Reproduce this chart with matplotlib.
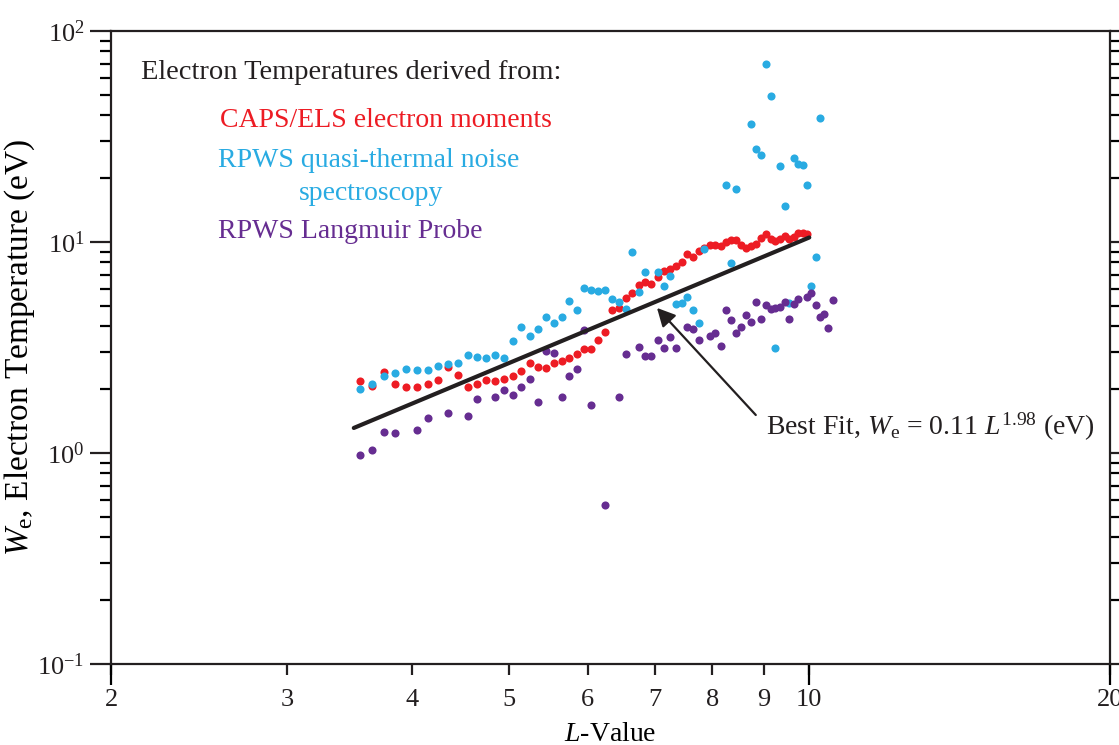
import matplotlib
matplotlib.use("Agg")
import matplotlib.pyplot as plt
from matplotlib import ticker

plt.rcParams['font.family'] = ['Liberation Serif', 'DejaVu Serif']
plt.rcParams['mathtext.fontset'] = 'custom'
plt.rcParams['mathtext.rm'] = 'Liberation Serif'
plt.rcParams['mathtext.it'] = 'Liberation Serif:italic'
plt.rcParams['mathtext.bf'] = 'Liberation Serif:bold'
plt.rcParams['axes.unicode_minus'] = False

# CAPS/ELS electron moments
els_L = [3.55, 3.65, 3.75, 3.85, 3.95, 4.05, 4.15, 4.25, 4.35, 4.45, 4.55, 4.65, 4.75,
         4.85, 4.95, 5.05, 5.15, 5.25, 5.35, 5.45, 5.55, 5.65, 5.75, 5.85, 5.95, 6.05,
         6.15, 6.25, 6.35, 6.45, 6.55, 6.65, 6.75, 6.85, 6.95, 7.05, 7.15, 7.25, 7.35,
         7.45, 7.55, 7.65, 7.75, 7.85, 7.95, 8.05, 8.15, 8.25, 8.35, 8.45, 8.55, 8.65,
         8.75, 8.85, 8.95, 9.05, 9.15, 9.25, 9.35, 9.45, 9.55, 9.65, 9.75, 9.85, 9.95]
els_W = [2.20, 2.08, 2.43, 2.12, 2.06, 2.05, 2.12, 2.21, 2.55, 2.34, 2.06, 2.12, 2.21,
         2.19, 2.24, 2.32, 2.44, 2.66, 2.56, 2.53, 2.66, 2.73, 2.83, 2.94, 3.10, 3.12,
         3.42, 3.73, 4.76, 4.88, 5.45, 5.71, 6.23, 6.44, 6.35, 6.80, 7.26, 7.45, 7.72,
         8.04, 8.77, 8.45, 9.05, 9.37, 9.65, 9.65, 9.60, 9.97, 10.2, 10.2, 9.68, 9.34,
         9.54, 9.82, 10.5, 10.9, 10.3, 10.1, 10.3, 10.7, 10.3, 10.6, 11.0, 11.0, 10.9]

# RPWS quasi-thermal noise spectroscopy
qtn_L = [3.55, 3.65, 3.75, 3.85, 3.95, 4.05, 4.15, 4.25, 4.35, 4.45, 4.55, 4.65, 4.75,
         4.85, 4.95, 5.05, 5.15, 5.25, 5.35, 5.45, 5.55, 5.65, 5.75, 5.85, 5.95, 6.05,
         6.15, 6.25, 6.35, 6.45, 6.55, 6.65, 6.75, 6.85, 7.05, 7.15, 7.25, 7.35, 7.45,
         7.55, 7.65, 7.75, 7.85, 8.25, 8.35, 8.45, 8.75, 8.85, 8.95, 9.05, 9.15, 9.25,
         9.35, 9.45, 9.55, 9.65, 9.75, 9.85, 9.95, 10.05, 10.15, 10.25]
qtn_W = [2.00, 2.13, 2.31, 2.39, 2.49, 2.48, 2.47, 2.58, 2.63, 2.67, 2.90, 2.85, 2.83,
         2.91, 2.82, 3.38, 3.97, 3.59, 3.89, 4.41, 4.15, 4.40, 5.24, 4.76, 6.05, 5.94,
         5.84, 5.92, 5.37, 5.21, 4.81, 8.94, 5.80, 7.18, 7.18, 6.19, 6.92, 5.07, 5.12,
         5.49, 4.77, 4.15, 9.24, 18.7, 7.93, 17.9, 36.3, 27.7, 25.8, 70.0, 49.0, 3.14,
         22.9, 14.8, 5.12, 24.9, 23.3, 23.2, 18.7, 6.17, 8.45, 38.6]

# RPWS Langmuir Probe
lp_L = [3.55, 3.65, 3.75, 3.85, 4.05, 4.15, 4.35, 4.55, 4.65, 4.85, 4.95, 5.05, 5.15,
        5.25, 5.35, 5.45, 5.55, 5.65, 5.75, 5.85, 5.95, 6.05, 6.25, 6.45, 6.55, 6.75,
        6.85, 6.95, 7.05, 7.15, 7.25, 7.35, 7.55, 7.65, 7.75, 7.95, 8.05, 8.15, 8.25,
        8.35, 8.45, 8.55, 8.65, 8.75, 8.85, 8.95, 9.05, 9.15, 9.25, 9.35, 9.45, 9.55,
        9.65, 9.75, 9.95, 10.05, 10.15, 10.25, 10.35, 10.45, 10.55]
lp_W = [0.98, 1.03, 1.26, 1.25, 1.29, 1.47, 1.54, 1.50, 1.81, 1.85, 1.99, 1.88, 2.05,
        2.25, 1.75, 3.04, 2.99, 1.84, 2.32, 2.50, 3.83, 1.68, 0.57, 1.84, 2.96, 3.17,
        2.88, 2.88, 3.43, 3.14, 3.56, 3.16, 3.97, 3.88, 3.44, 3.57, 3.69, 3.22, 4.76,
        4.26, 3.69, 3.97, 4.52, 4.18, 5.20, 4.33, 5.05, 4.83, 4.87, 4.92, 5.20, 4.33,
        5.07, 5.37, 5.47, 5.75, 5.05, 4.43, 4.54, 3.91, 5.29]

# best fit W_e = a * L^b, drawn over L = 3.5 .. 10
fit_a = 0.11
fit_b = 1.98
fit_L = [3.5, 10.0]
fit_W = [fit_a * L ** fit_b for L in fit_L]

# x tick labels (2, 10, 20 get the long ticks)
xt_labels = [2, 3, 4, 5, 6, 7, 8, 9, 10, 20]
xt_long = [2, 10, 20]

red = '#ED1C24'
blue = '#29ABE2'
purple = '#662D91'
black = '#231F20'
fs = 20

fig = plt.figure(figsize=(11.19, 7.45), dpi=100)
ax = fig.add_axes([111 / 1119, 1 - 664 / 745, (1110 - 111) / 1119, (664 - 31) / 745])

ax.scatter(els_L, els_W, s=34, color=red, linewidths=0, zorder=2)
ax.scatter(qtn_L, qtn_W, s=34, color=blue, linewidths=0, zorder=3)
ax.scatter(lp_L, lp_W, s=34, color=purple, linewidths=0, zorder=4)
ax.plot(fit_L, fit_W, color=black, lw=3, solid_capstyle='round', zorder=5)

ax.set_xscale('log')
ax.set_yscale('log')
ax.set_xlim(2, 20)
ax.set_ylim(0.1, 100)

ax.xaxis.remove_overlapping_locs = False
ax.xaxis.set_major_locator(ticker.FixedLocator(xt_labels))
ax.xaxis.set_major_formatter(ticker.FixedFormatter([str(v) for v in xt_labels]))
ax.xaxis.set_minor_locator(ticker.FixedLocator(xt_long))
ax.xaxis.set_minor_formatter(ticker.NullFormatter())
ax.yaxis.set_major_locator(ticker.LogLocator(base=10, numticks=10))
ax.yaxis.set_minor_locator(ticker.LogLocator(base=10, subs=range(2, 10), numticks=10))
ax.yaxis.set_minor_formatter(ticker.NullFormatter())

for s in ax.spines.values():
    s.set_linewidth(1.6)
    s.set_color(black)
ax.tick_params(axis='x', which='major', direction='out', length=8, width=1.6,
               labelsize=19, pad=10, colors=black)
ax.tick_params(axis='x', which='minor', direction='out', length=15, width=1.6)
ax.tick_params(axis='y', which='major', direction='out', length=15, width=1.6,
               labelsize=19, pad=4, right=True, colors=black)
ax.tick_params(axis='y', which='minor', direction='out', length=8, width=1.6, right=True)

ax.set_xlabel('$L$-Value', fontsize=fs, labelpad=8)
ax.set_ylabel(r'$W_{\rm e}$, Electron Temperature (eV)', fontsize=24, labelpad=0)

ax.text(0.030, 0.935, 'Electron Temperatures derived from:', transform=ax.transAxes,
        fontsize=20.5, color=black, va='center')
ax.text(0.109, 0.858, 'CAPS/ELS electron moments', transform=ax.transAxes,
        fontsize=fs, color=red, va='center')
ax.text(0.107, 0.796, 'RPWS quasi-thermal noise', transform=ax.transAxes,
        fontsize=fs, color=blue, va='center')
ax.text(0.260, 0.7425, 'spectroscopy', transform=ax.transAxes,
        fontsize=fs, color=blue, va='center', ha='center')
ax.text(0.107, 0.6825, 'RPWS Langmuir Probe', transform=ax.transAxes,
        fontsize=fs, color=purple, va='center')

ax.text(0.6557, 0.3744, r'Best Fit, $W_{\rm e}$ = 0.11 $L^{1.98}$ (eV)',
        transform=ax.transAxes, fontsize=fs, color=black, va='center', ha='left')
ax.annotate('', xy=(7.04, 4.87), xytext=(8.84, 1.514),
            arrowprops=dict(arrowstyle='-|>,head_length=0.55,head_width=0.28',
                            color=black, lw=1.6, mutation_scale=20,
                            shrinkA=0, shrinkB=0),
            zorder=6)

fig.savefig('out.png', dpi=100)
